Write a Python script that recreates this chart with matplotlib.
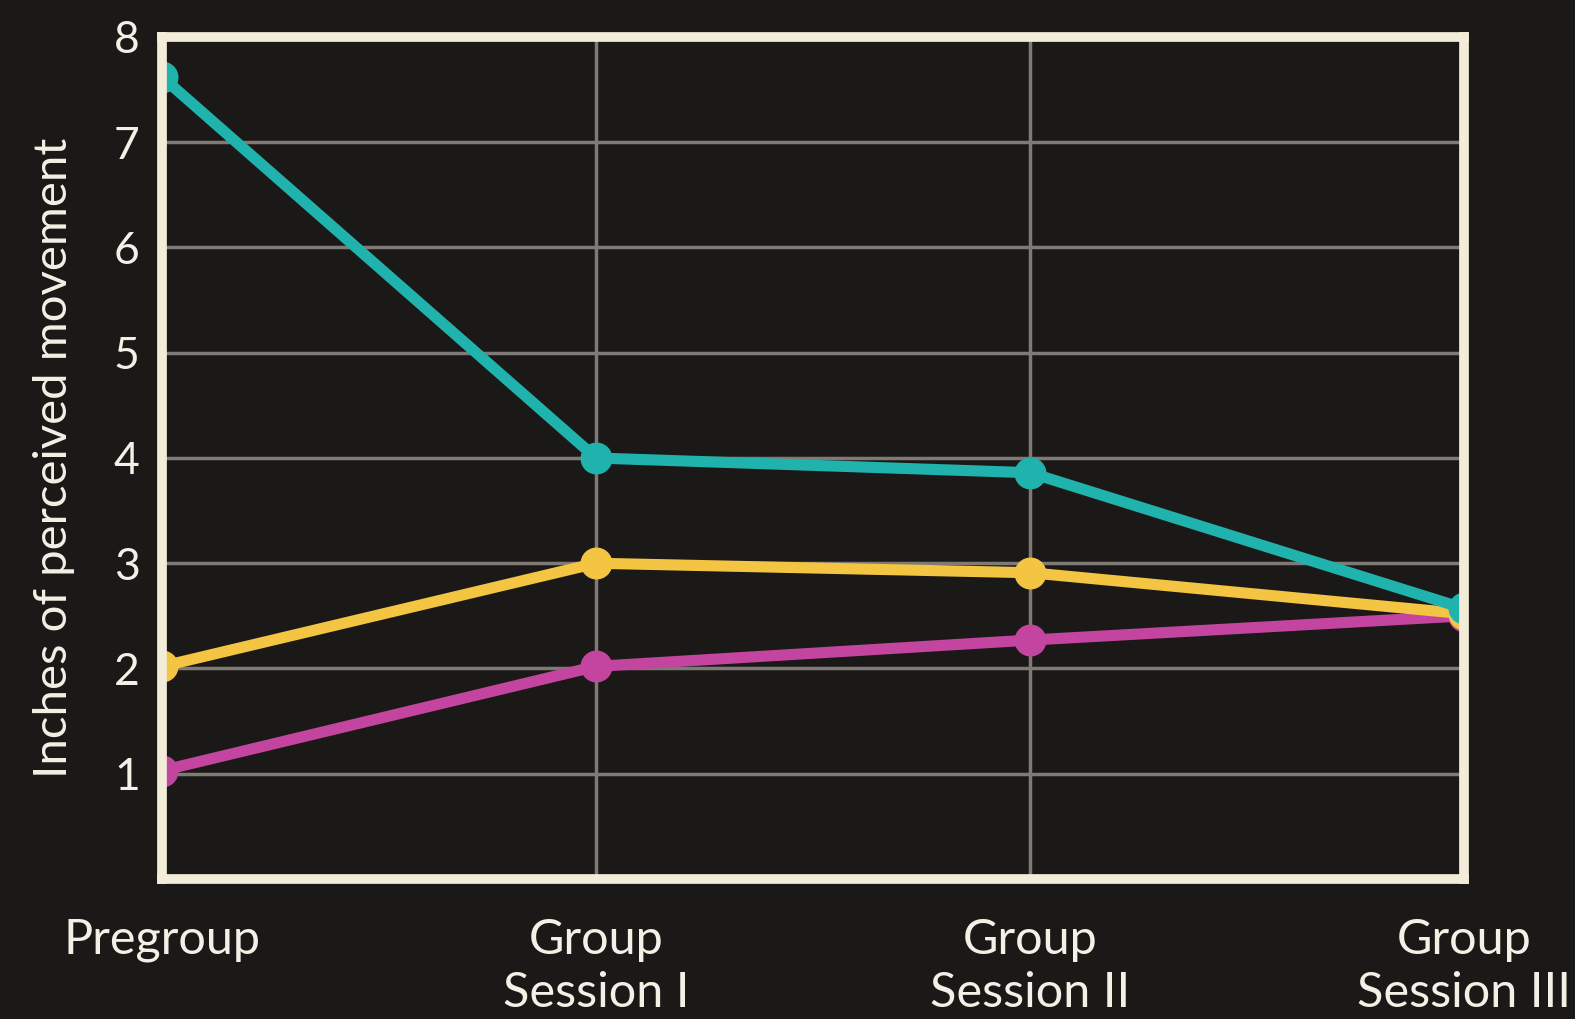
import matplotlib.pyplot as plt

# Sessions and perceived movement (inches) per group member
sessions = ['Pregroup', 'Group\nSession I', 'Group\nSession II', 'Group\nSession III']
teal_vals = [7.62, 4.0, 3.86, 2.57]
yellow_vals = [2.02, 3.0, 2.91, 2.52]
magenta_vals = [1.03, 2.02, 2.27, 2.5]
y_ticks = [1, 2, 3, 4, 5, 6, 7, 8]

BG = '#1b1917'
FRAME = '#f3ecd9'
GRID = '#7f7a75'
TEXT = '#f4f0e6'

plt.rcParams['font.family'] = ['Lato', 'DejaVu Sans']

fig = plt.figure(figsize=(15.75, 10.19), dpi=100, facecolor=BG)
ax = fig.add_axes([0.1029, 0.1374, 0.8267, 0.8263])
ax.set_facecolor(BG)

x = list(range(len(sessions)))
series = [
    (magenta_vals, '#c4459f'),
    (yellow_vals, '#f4c443'),
    (teal_vals, '#20b3ad'),
]
for vals, color in series:
    ax.plot(x, vals, color=color, linewidth=8, marker='o', markersize=22,
            solid_capstyle='round', zorder=3)

ax.set_xlim(0, 3)
ax.set_ylim(0, 8)
ax.set_yticks(y_ticks)
ax.set_yticklabels([str(v) for v in y_ticks], color=TEXT, fontsize=32)
ax.set_xticks([1, 2])
ax.set_xticklabels([])
ax.tick_params(length=0, pad=16)

for yv in range(1, 8):
    ax.axhline(yv, color=GRID, linewidth=2.5, zorder=1)
for xv in [1, 2]:
    ax.axvline(xv, color=GRID, linewidth=2.5, zorder=1)

for sp in ax.spines.values():
    sp.set_color(FRAME)
    sp.set_linewidth(7)
    sp.set_zorder(4)

for i, lab in enumerate(sessions):
    ax.annotate(lab, xy=(i, 0), xycoords='data', xytext=(0, -28),
                textcoords='offset points', ha='center', va='top',
                color=TEXT, fontsize=35, linespacing=1.25,
                annotation_clip=False)

ax.set_ylabel('Inches of perceived movement', color=TEXT, fontsize=34, labelpad=28)

fig.savefig('out.png', dpi=100, facecolor=BG)
